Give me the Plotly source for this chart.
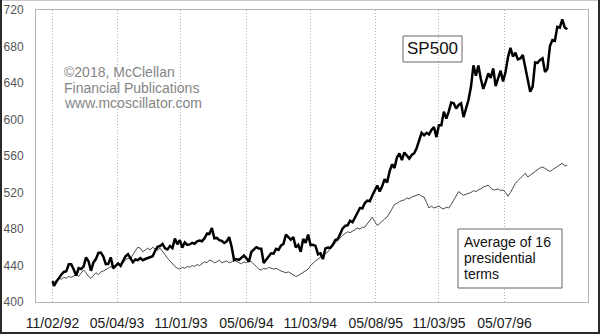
import pandas as pd
import plotly.graph_objects as go

# ---- data ----
start_date = ["1992-11-02"]
fridays = [d.strftime("%Y-%m-%d") for d in pd.date_range("1992-11-06", "1996-11-01", freq="W-FRI")]
dates = start_date + fridays

sp500 = [
    # 1992
    422.8, 417.6, 422.4, 426.7, 430.2, 432.9, 433.7, 441.3, 441.3, 435.7,
    # 1993
    429.0, 437.2, 436.1, 438.8, 448.9, 444.6, 434.2, 443.4, 447.1, 453.8, 454.2, 449.8,
    441.4, 441.8, 448.9, 437.0, 440.2, 442.3, 439.6, 445.8, 450.2, 452.4, 447.3, 443.7,
    446.6, 445.8, 448.1, 445.8, 447.1, 448.1, 448.7, 450.1, 456.2, 460.5, 461.3, 463.7,
    458.8, 457.6, 461.3, 459.2, 469.5, 463.3, 467.8, 459.6, 465.4, 462.6, 463.1, 464.9,
    463.9, 466.4, 467.3, 466.5,
    # 1994
    469.9, 474.9, 474.7, 481.0, 469.8, 470.2, 467.7, 467.0, 464.7, 466.4, 471.1, 460.6,
    445.8, 447.1, 446.2, 448.7, 450.9, 447.8, 444.1, 454.9, 457.3, 460.1, 458.7, 458.5,
    442.8, 446.2, 449.6, 453.4, 453.1, 458.3, 457.1, 461.9, 463.7, 473.8, 471.0, 468.2,
    471.2, 459.7, 462.7, 455.1, 469.1, 464.9, 473.8, 462.3, 462.6, 461.5, 452.3, 453.3,
    447.0, 458.8, 459.7, 459.3,
    # 1995
    462.7, 468.0, 468.8, 474.4, 480.6, 483.5, 484.0, 489.1, 487.4, 492.6, 498.5, 503.0,
    502.7, 508.4, 511.2, 510.5, 516.7, 522.1, 527.6, 521.2, 526.7, 534.5, 530.9, 542.8,
    550.9, 546.8, 558.4, 562.9, 555.5, 563.9, 560.9, 557.1, 561.2, 563.1, 568.8, 576.7,
    585.4, 582.7, 585.4, 583.6, 588.5, 591.7, 580.7, 593.7, 593.7, 608.6, 601.0, 609.0,
    618.7, 617.9, 612.0, 615.9,
    # 1996
    617.7, 602.7, 611.4, 621.6, 635.8, 659.4, 648.0, 659.1, 644.4, 633.5, 641.4, 650.6,
    645.5, 655.9, 636.7, 645.1, 653.5, 641.6, 652.1, 668.3, 678.5, 669.1, 673.3, 665.9,
    666.8, 670.6, 657.4, 646.2, 630.5, 635.9, 662.5, 662.1, 665.2, 667.0, 652.0, 655.7,
    680.5, 687.0, 686.2, 701.5, 700.7, 709.8, 700.9, 698.8,
]

avg16 = [
    423, 421, 424, 426, 425, 427, 426, 428, 427, 429,
    430, 428, 431, 435, 432, 428, 426, 429, 432, 430,
    433, 434, 436, 437, 439, 437, 440, 442, 441, 444,
    446, 448, 447, 452, 456, 460, 459, 455, 457, 459,
    457, 460, 458, 457, 459, 456, 452, 448, 445, 441,
    439, 437, 436, 438, 437, 439, 438, 440, 439, 441,
    440, 442, 444, 443, 446, 445, 443, 444, 446, 443,
    444, 445, 443, 444, 446, 444, 443, 442, 444, 443,
    445, 444, 442, 439, 436, 435, 437, 436, 438, 437,
    436, 437, 435, 434, 433, 432, 433, 431, 430, 428,
    429, 431, 433, 435, 436, 440, 442, 445, 447, 449,
    451, 453, 455, 459, 462, 465, 468, 470, 473, 475,
    477, 476, 478, 479, 481, 480, 482, 482, 486, 490,
    493, 488, 484, 486, 489, 491, 493, 497, 502, 507,
    508, 510, 511, 512, 514, 513, 515, 516, 517, 518,
    516, 515, 509, 503, 505, 503, 504, 505, 503, 502,
    504, 503, 507, 512, 517, 521, 519, 517, 518, 519,
    520, 522, 521, 523, 524, 526, 527, 528, 525, 523,
    523, 524, 522, 523, 520, 516, 520, 525, 530, 533,
    536, 539, 541, 537, 539, 542, 544, 545, 547, 548,
    546, 544, 543, 545, 547, 548, 550, 552, 549, 550,
]

tick_dates = ["1992-11-02", "1993-05-04", "1993-11-01", "1994-05-06",
              "1994-11-03", "1995-05-08", "1995-11-03", "1996-05-07"]
tick_labels = ["11/02/92", "05/04/93", "11/01/93", "05/06/94",
               "11/03/94", "05/08/95", "11/03/95", "05/07/96"]
y_ticks = [400, 440, 480, 520, 560, 600, 640, 680, 720]

copyright_lines = ["©2018, McClellan", "Financial Publications", "www.mcoscillator.com"]
legend_lines = ["Average of 16", "presidential", "terms"]

FONT = "Arial, Liberation Sans, sans-serif"

fig = go.Figure()
fig.add_trace(go.Scatter(x=dates, y=avg16, mode="lines",
                         line=dict(color="#4a4a4a", width=1), name="Average"))
fig.add_trace(go.Scatter(x=dates, y=sp500, mode="lines",
                         line=dict(color="#000000", width=2.5), name="SP500"))

W, H = 600, 334
L, R, T, B = 36, 12, 10, 32
pw, ph = W - L - R, H - T - B


def px(x):
    return (x - L) / pw


def py(y):
    return 1 - (y - T) / ph


fig.update_layout(
    width=W, height=H,
    margin=dict(l=L, r=R, t=T, b=B, autoexpand=False),
    paper_bgcolor="white", plot_bgcolor="white",
    showlegend=False,
    font=dict(family=FONT, color="#222"),
    xaxis=dict(
        type="date", range=["1992-09-16", "1996-12-30"],
        tickvals=tick_dates, ticktext=tick_labels, automargin=False,
        showgrid=True, gridcolor="#b0b0b0", griddash="1px,2px", gridwidth=1,
        showline=True, linecolor="#b4b4b4", mirror=True, linewidth=1,
        ticks="", tickfont=dict(size=14, color="#1a1a1a", family=FONT),
        ticklabelstandoff=8, zeroline=False,
    ),
    yaxis=dict(
        range=[400, 720], tickvals=y_ticks, automargin=False,
        showgrid=False, showline=True, linecolor="#b4b4b4", mirror=True, linewidth=1,
        ticks="", tickfont=dict(size=12, color="#555", family=FONT),
        ticklabelstandoff=9, zeroline=False,
    ),
)

for i, line in enumerate(copyright_lines):
    fig.add_annotation(
        xref="paper", yref="paper", x=px(62), y=py(72 + 15.5 * i),
        xanchor="left", yanchor="middle", align="left", showarrow=False,
        text=line, font=dict(size=14, color="#858585", family=FONT),
    )

fig.add_annotation(
    xref="paper", yref="paper", x=px(432.5), y=py(49),
    xanchor="center", yanchor="middle", showarrow=False,
    text="SP500", font=dict(size=17, color="#111", family=FONT),
)
fig.add_shape(type="rect", xref="paper", yref="paper",
              x0=px(403), x1=px(462), y0=py(62), y1=py(36),
              line=dict(color="#666", width=1), fillcolor="rgba(0,0,0,0)")

fig.add_shape(type="rect", xref="paper", yref="paper",
              x0=px(458), x1=px(562), y0=py(288), y1=py(229),
              line=dict(color="#666", width=1), fillcolor="white", layer="above")
for i, line in enumerate(legend_lines):
    fig.add_annotation(
        xref="paper", yref="paper", x=px(462), y=py(242 + 16 * i),
        xanchor="left", yanchor="middle", align="left", showarrow=False,
        text=line, font=dict(size=14, color="#111", family=FONT),
    )

# outer frame of the image
fig.add_shape(type="line", xref="paper", yref="paper",
              x0=px(0), x1=px(W), y0=py(0.5), y1=py(0.5),
              line=dict(color="#c8c8c8", width=1), layer="above")
fig.add_shape(type="line", xref="paper", yref="paper",
              x0=px(1), x1=px(1), y0=py(0), y1=py(H),
              line=dict(color="#2a2a2a", width=2), layer="above")
fig.add_shape(type="line", xref="paper", yref="paper",
              x0=px(W - 1), x1=px(W - 1), y0=py(0), y1=py(H),
              line=dict(color="#2a2a2a", width=2), layer="above")
fig.add_shape(type="line", xref="paper", yref="paper",
              x0=px(0), x1=px(W), y0=py(H - 1), y1=py(H - 1),
              line=dict(color="#2a2a2a", width=2), layer="above")

fig.write_html("out.html")
